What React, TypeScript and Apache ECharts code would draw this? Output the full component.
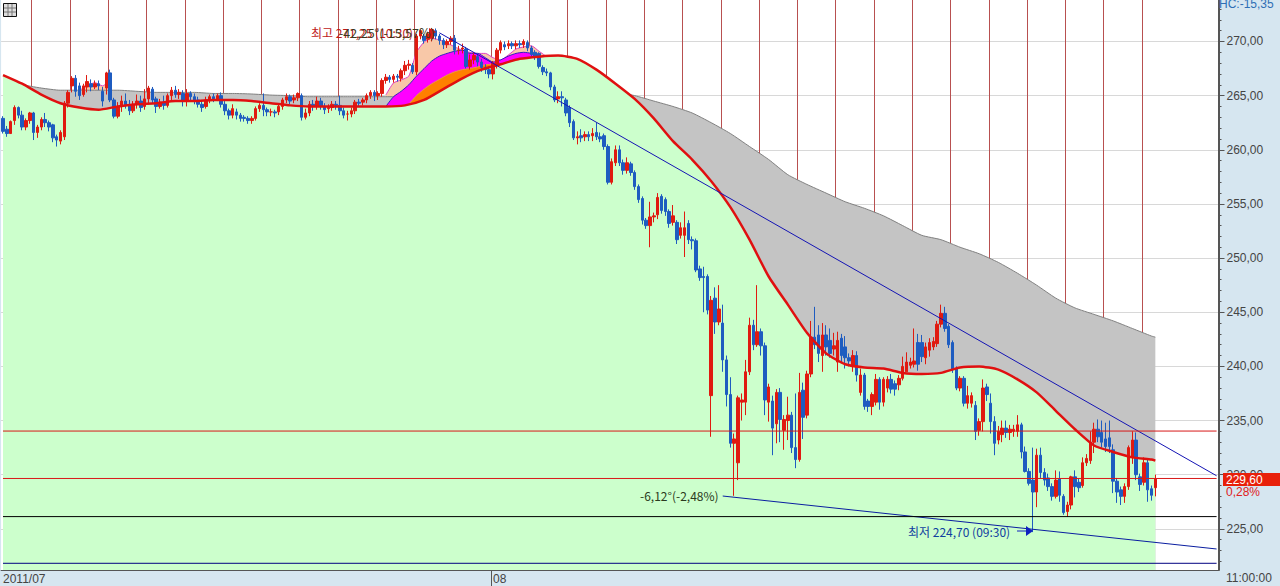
import React, { useEffect, useRef } from "react";
import * as echarts from "echarts";

// open, close, low, high for each bar
const candleRows: number[][] = [
[262.9,261.7,261.5,263.1],[261.9,261.5,261.2,262.2],[261.5,262.6,261.5,262.7],[262.7,263.9,262.3,264.1],[263.9,263.2,262.9,264.0],[263.2,262.1,261.8,263.6],[262.1,262.7,261.8,262.9],[262.7,263.4,262.4,263.5],[263.4,261.6,260.9,263.5],[261.6,262.1,261.1,262.3],
[262.1,262.8,261.8,263.0],[262.8,262.5,262.1,263.4],[262.5,262.1,261.7,262.7],[262.3,261.1,260.7,262.4],[261.2,260.9,260.3,261.4],[260.8,261.6,260.5,261.8],[261.2,264.3,260.9,264.5],[264.3,265.3,263.9,265.5],[265.9,266.6,265.3,266.8],[266.6,265.4,264.9,266.9],
[265.9,265.0,264.6,266.2],[265.1,265.9,264.9,266.1],[265.8,266.3,265.3,266.9],[266.1,265.8,265.4,266.5],[265.8,266.1,265.6,266.4],[266.1,265.9,265.5,266.4],[265.4,264.5,264.0,265.8],[265.7,267.1,265.1,267.2],[267.1,264.6,264.4,267.4],[264.6,263.1,262.9,264.8],
[263.1,264.0,262.9,264.4],[264.0,264.5,263.5,265.0],[264.5,264.1,263.8,265.2],[264.1,263.6,263.2,264.6],[263.6,264.2,263.4,264.5],[264.2,264.5,263.8,265.1],[264.5,263.9,263.5,265.0],[264.0,264.7,263.7,265.6],[264.7,265.7,264.2,265.9],[265.6,264.6,264.3,265.8],
[264.7,264.0,263.4,264.9],[264.0,264.4,263.8,264.7],[264.4,264.1,263.7,265.0],[264.1,265.0,263.9,265.2],[265.0,265.5,264.6,265.8],[265.5,265.1,264.8,265.9],[265.1,265.3,264.7,265.6],[265.2,264.6,264.0,265.5],[264.6,265.2,264.0,265.6],[265.2,264.9,264.5,265.4],
[264.9,264.5,264.2,265.2],[264.6,264.2,263.9,264.9],[264.2,263.9,263.5,264.6],[264.0,264.6,263.8,264.9],[264.6,264.9,264.3,265.1],[264.9,264.7,264.4,265.2],[264.7,265.0,264.5,265.2],[265.0,264.2,263.9,265.3],[264.2,263.6,263.2,264.5],[263.6,263.2,262.8,263.8],
[263.2,263.8,262.9,264.2],[263.5,263.2,262.8,263.8],[263.2,262.9,262.6,263.4],[263.0,262.9,262.6,263.2],[262.9,262.7,262.4,263.1],[262.7,262.9,262.4,263.1],[262.9,263.8,262.7,264.0],[263.8,264.1,263.5,264.3],[264.1,263.7,263.1,265.2],[263.7,263.5,263.1,263.9],
[263.5,263.5,263.1,263.8],[263.5,263.4,263.0,263.7],[263.5,264.0,263.2,264.2],[264.0,264.6,263.7,264.8],[264.6,264.9,264.3,265.2],[264.9,264.5,264.2,265.1],[264.6,264.8,264.3,265.1],[264.8,265.2,264.5,265.3],[265.0,263.0,262.7,265.2],[263.0,263.4,262.8,263.8],
[263.4,264.2,263.1,264.5],[264.2,264.0,263.6,264.6],[264.0,264.5,263.7,264.9],[264.5,264.0,263.7,264.8],[264.0,263.7,263.3,264.3],[263.8,263.9,263.4,264.2],[263.9,264.2,263.6,264.5],[264.2,264.1,263.7,264.5],[264.1,263.6,263.2,265.0],[263.6,263.2,262.9,263.9],
[263.3,263.3,262.7,263.6],[263.3,263.6,263.0,263.9],[263.6,264.4,263.3,264.6],[264.4,264.3,264.0,264.7],[264.4,264.6,264.1,264.8],[264.6,265.0,264.3,265.2],[265.0,265.3,264.7,265.5],[265.3,265.0,264.5,265.5],[265.0,265.2,264.6,265.4],[265.2,266.4,264.9,266.6],
[266.4,266.7,266.1,267.0],[266.7,266.5,266.2,266.9],[266.5,266.8,266.2,267.0],[266.8,266.7,266.3,267.0],[266.6,267.3,266.3,267.5],[267.3,267.8,266.9,268.2],[267.8,267.9,267.4,268.3],[267.8,267.2,267.0,268.0],[267.2,270.5,266.9,270.7],[270.5,271.0,270.2,271.1],
[270.5,270.1,269.8,270.7],[270.2,270.7,269.9,270.9],[270.3,271.1,270.0,271.25],[271.0,270.5,270.2,271.2],[270.5,270.1,269.7,270.7],[270.1,269.7,269.3,270.3],[269.7,270.0,269.4,270.2],[270.0,270.3,269.7,270.5],[270.3,269.2,268.8,270.6],[269.2,269.2,268.8,269.6],
[269.3,269.4,268.9,269.8],[269.3,267.7,267.5,269.5],[267.7,268.3,267.4,268.8],[268.3,268.7,267.9,269.0],[268.6,268.1,267.7,268.9],[268.1,267.6,267.2,268.4],[267.6,267.4,267.0,267.9],[267.4,267.0,266.6,267.7],[267.0,268.0,266.5,268.2],[267.8,269.2,267.5,269.4],
[269.2,269.9,268.9,270.1],[269.7,269.5,269.2,270.0],[269.6,269.8,269.3,270.1],[269.8,269.6,269.3,270.0],[269.6,269.8,269.3,270.1],[269.8,269.7,269.4,270.1],[269.7,270.0,269.4,270.2],[269.9,269.4,269.1,270.1],[269.4,268.8,268.5,269.6],[269.0,268.6,268.3,269.2],
[268.9,267.7,267.5,269.0],[267.6,267.2,266.9,267.8],[267.2,267.1,266.8,267.5],[267.1,265.8,265.5,267.2],[265.8,264.6,264.4,266.0],[264.7,264.9,264.3,265.4],[264.9,264.8,264.0,265.4],[264.6,263.4,263.1,264.8],[263.9,262.5,262.1,264.1],[262.6,261.1,260.9,262.8],
[261.1,261.2,260.5,261.7],[261.3,261.1,260.7,261.9],[261.2,261.4,260.8,261.7],[261.4,261.2,260.8,261.7],[261.3,261.5,260.8,262.0],[261.6,261.2,260.9,262.5],[261.2,261.0,260.7,261.6],[261.3,260.3,260.0,261.5],[260.3,257.0,256.8,260.5],[257.0,258.9,256.8,259.2],
[258.8,260.0,258.5,260.4],[260.0,258.8,258.5,260.4],[258.8,258.1,257.7,259.1],[258.1,258.8,257.8,259.3],[258.7,257.9,257.6,258.9],[257.9,256.6,256.3,258.1],[256.6,255.4,255.1,256.8],[255.5,253.5,253.1,255.7],[253.5,253.0,252.7,253.7],[253.0,253.8,251.0,255.2],
[253.8,253.9,253.3,254.2],[254.0,255.6,253.6,256.0],[255.7,254.4,254.1,255.9],[255.4,254.3,253.9,255.6],[254.3,253.2,252.8,254.5],[253.3,253.9,253.0,254.9],[253.3,251.7,251.3,253.5],[252.1,252.8,251.8,253.3],[252.1,252.8,250.1,254.3],[253.2,251.7,251.3,253.5],
[251.7,251.6,250.8,252.0],[251.6,248.9,248.7,251.8],[249.0,248.2,247.9,249.3],[248.3,248.2,245.0,249.2],[248.3,245.2,244.8,248.5],[237.3,246.1,233.5,246.5],[246.3,244.1,243.0,247.3],[244.1,245.3,243.8,247.5],[244.0,240.6,239.5,245.7],[240.6,237.4,236.3,241.0],
[237.4,232.9,232.5,239.0],[232.9,233.3,228.05,233.8],[231.1,237.1,229.5,237.3],[236.7,236.9,235.0,237.5],[236.7,239.5,235.5,240.6],[239.5,243.8,239.2,244.5],[243.8,242.0,241.5,244.3],[242.0,243.2,241.8,247.5],[243.2,241.9,241.0,243.5],[241.9,236.9,235.5,242.2],
[236.7,238.1,234.9,238.4],[236.8,234.3,231.8,237.3],[234.7,237.6,232.9,237.9],[237.6,235.1,233.0,238.0],[234.1,235.1,232.3,235.5],[235.0,235.5,233.2,237.2],[235.5,232.5,232.0,235.8],[232.5,231.4,230.6,237.5],[231.4,237.6,231.2,239.4],[237.8,235.3,233.3,238.5],
[235.5,239.3,235.2,239.6],[239.3,242.7,239.0,244.2],[242.7,242.0,241.6,245.5],[242.9,241.2,240.4,243.8],[241.0,242.9,239.5,244.0],[242.9,241.8,241.0,243.8],[242.4,241.2,240.8,243.5],[241.6,241.9,241.0,243.1],[240.4,242.4,239.5,243.2],[242.6,241.0,240.3,243.0],
[241.8,240.8,239.8,242.8],[240.8,240.5,240.0,241.2],[240.0,241.0,239.5,241.5],[241.0,239.2,238.6,241.4],[237.6,239.2,237.3,239.8],[239.2,236.3,236.0,239.4],[236.8,236.3,235.8,237.0],[236.3,237.4,235.5,237.6],[236.7,238.8,236.4,239.3],[238.8,236.7,236.0,239.0],
[236.7,238.8,236.3,239.0],[238.0,238.8,237.6,239.1],[238.8,237.9,237.5,239.3],[238.4,237.9,237.3,238.7],[238.3,238.9,237.8,239.2],[238.9,240.0,238.7,240.9],[239.5,240.4,239.5,241.3],[240.1,240.4,239.8,240.8],[240.2,240.5,239.9,243.5],[242.2,240.2,239.6,243.0],
[242.2,240.9,240.4,242.9],[240.8,241.8,240.2,242.2],[241.5,242.2,240.9,242.6],[241.8,242.3,241.5,242.7],[242.1,243.9,241.8,244.2],[243.9,244.9,243.6,245.7],[244.9,243.5,243.2,245.5],[243.7,242.0,241.7,243.9],[242.2,239.7,239.4,242.4],[239.8,238.0,237.8,240.0],
[238.0,238.9,237.7,239.1],[238.9,236.6,236.3,239.1],[236.6,237.3,236.1,238.2],[236.6,237.3,236.2,237.6],[236.4,234.0,233.2,236.8],[234.1,234.9,233.6,235.2],[234.9,238.0,234.0,238.8],[238.1,237.4,236.8,238.4],[236.6,234.9,233.8,237.5],[234.9,232.9,231.8,235.4],
[233.2,234.0,232.8,234.5],[233.7,234.3,233.0,235.0],[234.3,233.9,233.4,235.0],[233.9,234.2,233.2,234.6],[234.0,234.2,233.5,234.6],[234.0,234.6,233.5,235.5],[234.6,232.1,231.5,234.8],[232.1,230.3,230.2,232.6],[230.3,229.2,229.0,230.6],[229.5,228.4,224.7,232.5],
[228.4,231.8,227.0,232.4],[231.8,230.2,229.7,232.5],[230.2,229.5,229.0,230.6],[229.7,228.9,228.5,230.1],[228.9,228.0,227.6,229.2],[228.0,229.5,227.8,230.4],[229.6,228.1,227.5,230.3],[228.0,226.5,226.3,228.2],[226.6,227.2,226.1,227.5],[227.2,229.8,226.8,229.9],
[229.8,228.9,227.9,230.4],[229.3,228.8,228.4,229.6],[229.0,231.1,228.8,231.6],[231.1,231.5,230.8,231.9],[231.3,233.0,231.0,234.0],[233.0,234.2,232.0,234.8],[234.2,233.5,233.0,235.1],[233.9,233.0,232.5,235.0],[233.3,232.6,232.1,234.8],[233.4,232.6,232.0,235.0],
[232.3,229.4,228.3,232.8],[229.4,228.4,227.4,229.7],[228.6,228.0,227.2,228.9],[228.0,228.9,227.4,229.2],[228.9,232.5,228.6,232.7],[231.6,233.2,231.0,234.0],[233.2,230.0,229.5,233.9],[229.8,229.1,228.5,230.1],[229.3,231.1,229.0,231.6],[231.1,228.6,227.5,231.4],[228.7,228.1,227.6,229.0],[228.8,229.6,228.0,230.0],
];

// moving averages, one value every 5 bars from bar 0 / bar 5
const redMA = [266.9,266.1,265.1,264.3,263.9,263.7,264,264.2,264.3,264.5,264.5,264.6,264.6,264.5,264.3,264.1,264,264,264,264,264,264.1,264.6,265.6,266.6,267.4,267.9,268.4,268.6,268.7,268.4,267.4,266.1,264.7,262.9,260.8,259.1,257.1,254.7,251.7,248.3,245.7,243.1,241.2,240.2,239.9,239.8,239.4,239.3,239.4,239.9,240,239.7,238.8,237.6,235.9,234.2,232.7,232.1,231.6,231.4,231.3];
const grayMA = [266,265.7,265.5,265.5,265.5,265.5,265.4,265.3,265.3,265.3,265.2,265.2,265.15,265.05,265,264.9,264.9,264.9,264.9,264.9,264.9,264.95,264.9,265,265,265.1,265.1,265.1,265.2,265.2,265.2,265.3,265,264.5,264,263.4,262.5,261.5,260.3,259.1,257.7,256.8,256,255.2,254.6,253.9,253,252.1,251.7,251,250.4,249.6,248.6,247.5,246.3,245.4,244.8,244.2,243.5,242.8,242.7];

// short-term averages, one value every 2 bars from bar 100 / 106
const peachMA = [265.06,266.17,266.45,266.8,269,269.95,270.3,270.14,269.86,269.5,269.2,269,268.9,268.9,268.5,268.3,268.75,269.3,269.5,269.6,269.1,268.6];
const magentaMA = [264,264.9,265.4,266,266.8,267.5,268.2,268.65,268.9,269.1,269.2,268.9,268.9,268.5,268.1,268.3,268.65,268.9,269,268.9,268.6];
const orangeMA = [264.2,265,265.6,266.1,266.5,266.9,267.2,267.4,267.5,267.65,267.85,267.9];
const peachEarly = [265.5,265.9,266.2,265.9,266.45];

const resistanceLine = [[114, 270.8], [317, 229.9]];
const supportLine = [[188, 228.03], [317, 223.14]];
const levelRedHigh = 234.03;
const levelRedLast = 229.65;
const levelBlack = 226.13;
const levelNavy = 221.82;

const monthLabels: Record<number, string> = { 0: "2011/07", 128: "08" };
const priceTicks = [225, 230, 235, 240, 245, 250, 255, 260, 265, 270];
const minorTicks = Array.from({ length: 52 }, (_, i) => 222 + i);

const BAR_SLOTS = 318;
const categories = Array.from({ length: BAR_SLOTS }, (_, i) => monthLabels[i] ?? "");
const stepped = (vals: number[], first: number, step: number, last?: number) =>
  vals.map((v, i) => [last !== undefined && i === vals.length - 1 ? last : first + i * step, v]);

const UI_FONT = '"Liberation Sans", sans-serif';
const KR_FONT = '"Noto Sans CJK KR", sans-serif';
const TXT = "#444";
const MIN = 221.2;
const MAX = 273.83;

const area = (name: string, data: number[][], fill: string, line: string, lw: number, z: number) => ({
  name,
  type: "line",
  data,
  symbol: "none",
  smooth: 0.2,
  z,
  silent: true,
  lineStyle: { color: line, width: lw },
  areaStyle: { color: fill, opacity: 1, origin: "start" },
});
const trend = (name: string, data: number[][], color: string) => ({
  name,
  type: "line",
  data,
  symbol: "none",
  z: 9,
  silent: true,
  lineStyle: { color, width: 1 },
});
const level = (name: string, value: number, color: string) =>
  trend(name, [[0, value], [BAR_SLOTS - 1, value]], color);

export default function App() {
  const ref = useRef<HTMLDivElement>(null);
  useEffect(() => {
    document.body.style.margin = "0";
    const chart = echarts.init(ref.current!, undefined, { renderer: "svg" });
    const isGridBar = (i: number) => i % 10 === 8 && i < 300;
    chart.setOption({
      animation: false,
      backgroundColor: "#D6E6F0",
      grid: { left: 1, top: 0, width: 1217.5, height: 570, show: true, backgroundColor: "#fff", borderWidth: 0 },
      xAxis: {
        type: "category",
        data: categories,
        boundaryGap: true,
        axisLine: { show: true, lineStyle: { color: "#555", width: 1 } },
        axisTick: { show: true, inside: true, length: 2, interval: isGridBar, lineStyle: { color: "#555" } },
        splitLine: { show: true, interval: isGridBar, lineStyle: { color: "#B85050", width: 1 } },
        axisLabel: {
          interval: (i: number) => monthLabels[i] !== undefined,
          align: "left",
          margin: 3,
          color: TXT,
          fontFamily: UI_FONT,
          fontSize: 12,
        },
      },
      yAxis: [
        {
          type: "value",
          position: "right",
          min: MIN,
          max: MAX,
          axisLine: { show: true, lineStyle: { color: "#555", width: 2 } },
          axisTick: { show: true, length: 6, customValues: priceTicks, lineStyle: { color: "#555" } },
          splitLine: { show: true, lineStyle: { color: "#D8D8D8", width: 1 } },
          axisLabel: {
            customValues: priceTicks,
            margin: 8,
            color: TXT,
            fontFamily: UI_FONT,
            fontSize: 12,
            formatter: (v: number) => v.toFixed(2).replace(".", ","),
          },
        },
        {
          type: "value",
          position: "right",
          min: MIN,
          max: MAX,
          axisLine: { show: false },
          axisTick: { show: true, length: 3, customValues: minorTicks, lineStyle: { color: "#555" } },
          splitLine: { show: false },
          axisLabel: { show: false },
        },
      ],
      series: [
        area("peachEarly", stepped(peachEarly, 20, 2), "#F8C8A8", "#E040C0", 1, 1),
        area("peach", stepped(peachMA, 100, 2), "#F8C8A8", "#E040C0", 1, 1),
        area("gray", stepped(grayMA, 5, 5, 301), "#C4C4C4", "#808080", 1, 2),
        area("magenta", stepped(magentaMA, 100, 2), "#FF00FF", "#3020C0", 1, 3),
        area("orange", stepped(orangeMA, 106, 2), "#FF8000", "#E8A040", 1, 4),
        area("green", stepped(redMA, 0, 5, 301), "#CCFFCC", "#CCFFCC", 0, 5),
        {
          name: "candles",
          type: "candlestick",
          data: candleRows,
          z: 6,
          barWidth: 3,
          silent: true,
          itemStyle: { color: "#E01A10", color0: "#1E5CC0", borderColor: "#E01A10", borderColor0: "#1E5CC0", borderWidth: 1 },
        },
        {
          name: "redLine",
          type: "line",
          data: stepped(redMA, 0, 5, 301),
          symbol: "none",
          smooth: 0.2,
          z: 8,
          silent: true,
          lineStyle: { color: "#E01010", width: 2.5 },
        },
        trend("resistance", resistanceLine, "#1414B4"),
        trend("support", supportLine, "#0A1EA0"),
        level("levelRedHigh", levelRedHigh, "#D81818"),
        level("levelRedLast", levelRedLast, "#D81818"),
        level("levelBlack", levelBlack, "#000000"),
        level("levelNavy", levelNavy, "#000080"),
      ],
      graphic: [
        { type: "rect", z: 20, shape: { x: 3.5, y: 3.5, width: 13, height: 13 }, style: { fill: "#DDD", stroke: "#111", lineWidth: 1 } },
        { type: "line", z: 21, shape: { x1: 8, y1: 4, x2: 8, y2: 16 }, style: { stroke: "#777" } },
        { type: "line", z: 21, shape: { x1: 12, y1: 4, x2: 12, y2: 16 }, style: { stroke: "#777" } },
        { type: "line", z: 21, shape: { x1: 4, y1: 8, x2: 16, y2: 8 }, style: { stroke: "#777" } },
        { type: "line", z: 21, shape: { x1: 4, y1: 12, x2: 16, y2: 12 }, style: { stroke: "#777" } },
        { type: "line", z: 21, shape: { x1: 491.5, y1: 570, x2: 491.5, y2: 586 }, style: { stroke: "#555" } },
        { type: "text", z: 20, x: 311, y: 32, style: { text: "최고 271,25 (10:30)", fill: "#C01818", font: `12px ${KR_FONT}`, textVerticalAlign: "middle" } },
        { type: "polygon", z: 20, shape: { points: [[429, 28], [436, 32], [429, 36]] }, style: { fill: "#D01818" } },
        { type: "text", z: 20, x: 339, y: 32, style: { text: "-42,25°(-15,57%)", fill: "#3A3A20", font: `12.5px ${KR_FONT}`, textVerticalAlign: "middle" } },
        { type: "text", z: 20, x: 640, y: 495, style: { text: "-6,12°(-2,48%)", fill: "#2A3A20", font: `12px ${KR_FONT}`, textVerticalAlign: "middle" } },
        { type: "text", z: 20, x: 908, y: 531, style: { text: "최저 224,70 (09:30)", fill: "#1040A0", font: `12px ${KR_FONT}`, textVerticalAlign: "middle" } },
        { type: "line", z: 20, shape: { x1: 1017, y1: 531, x2: 1026, y2: 531 }, style: { stroke: "#1020C0", lineWidth: 1 } },
        { type: "polygon", z: 20, shape: { points: [[1026, 526], [1033, 531], [1026, 536]] }, style: { fill: "#1020C0" } },
        { type: "rect", z: 20, shape: { x: 1223, y: 473, width: 57, height: 13 }, style: { fill: "#E8200A" } },
        { type: "text", z: 21, x: 1226, y: 479.5, style: { text: "229,60", fill: "#fff", font: `12px ${UI_FONT}`, textVerticalAlign: "middle" } },
        { type: "text", z: 21, x: 1226, y: 492, style: { text: "0,28%", fill: "#E02020", font: `12px ${UI_FONT}`, textVerticalAlign: "middle" } },
        { type: "text", z: 20, x: 1219, y: 4, style: { text: "HC:-15,35", fill: "#2F6FB5", font: `12px ${UI_FONT}`, textVerticalAlign: "middle" } },
        { type: "text", z: 20, x: 1226, y: 578, style: { text: "11:00:00", fill: TXT, font: `12px ${UI_FONT}`, textVerticalAlign: "middle" } },
      ],
    });
    return () => chart.dispose();
  }, []);
  return <div ref={ref} style={{ width: 1280, height: 586 }} />;
}
